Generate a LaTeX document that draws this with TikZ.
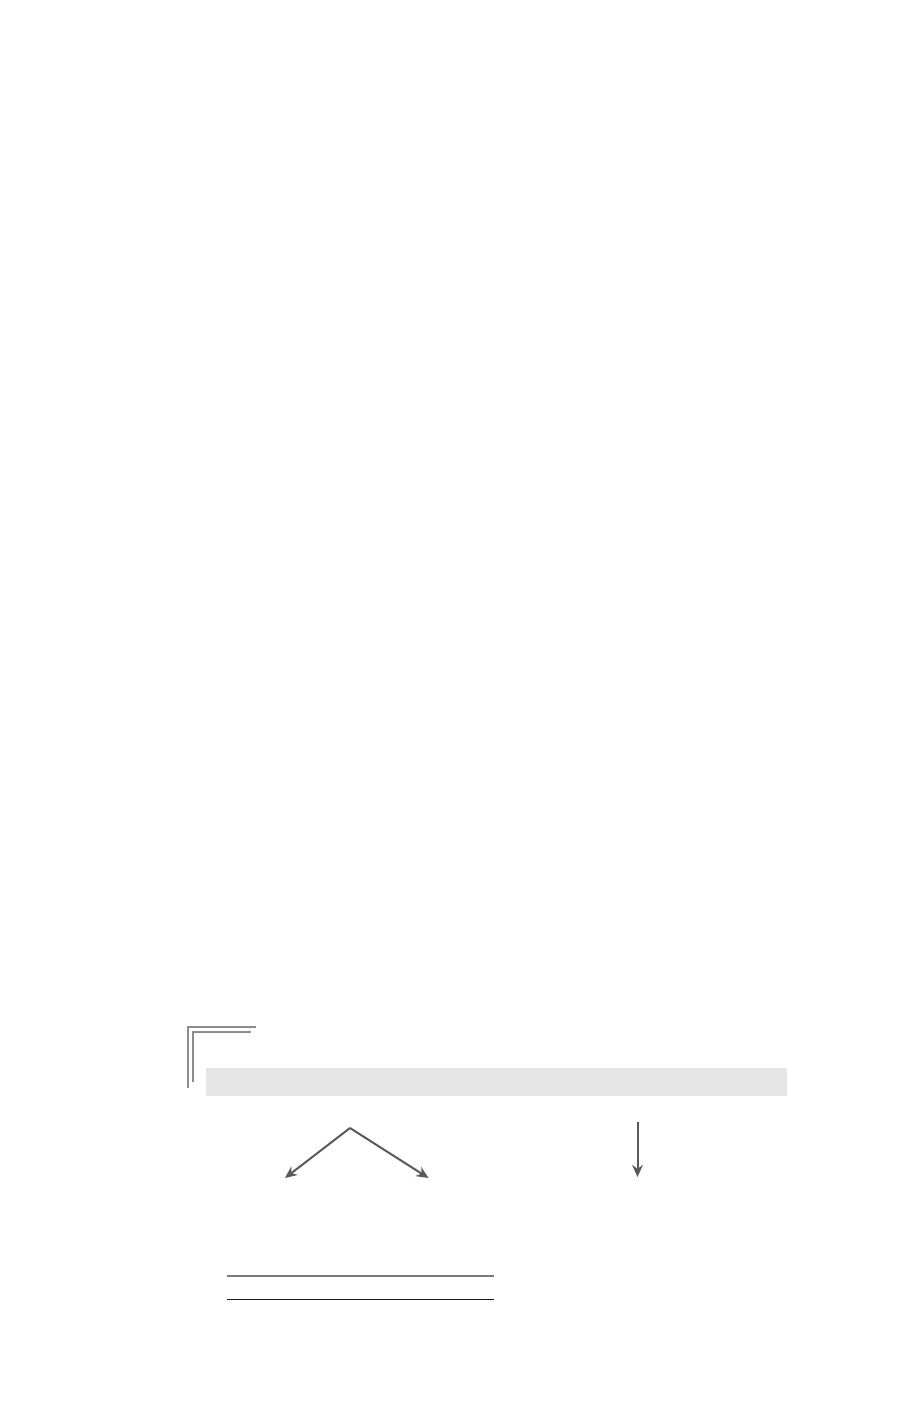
\documentclass[tikz,border=0pt]{standalone}
\usetikzlibrary{arrows.meta}
\definecolor{barfill}{HTML}{E5E5E5}
\definecolor{arrowgray}{HTML}{595959}
\definecolor{cornergray}{HTML}{8C8C8C}
\definecolor{rulegray}{HTML}{7A7A74}
\begin{document}
\begin{tikzpicture}[x=0.75pt,y=-0.75pt,
  flow/.style={draw=arrowgray,line width=1.5pt,-{Stealth[length=9pt,width=8pt]}},
  cornerline/.style={draw=cornergray,line width=1.2pt}]
\useasboundingbox (0,0) rectangle (920,1406);
% corner mark
\draw [cornerline] (188,1088) -- (188,1027) -- (256,1027);
\draw [cornerline] (193,1082) -- (193,1032) -- (251,1032);
% header bar
\node (header) [fill=barfill,inner sep=0pt,minimum width=435.75pt,minimum height=21pt] at (496.75,1082) {};
% arrows
\coordinate (split) at (350,1128);
\coordinate (leftend) at (285,1178);
\coordinate (rightend) at (428.5,1178);
\coordinate (downtop) at (637.5,1122);
\coordinate (downend) at (637.5,1177);
\draw [flow] (split) -- (leftend);
\draw [flow] (split) -- (rightend);
\draw [flow] (downtop) -- (downend);
% rules
\coordinate (ruleAleft) at (227,1276);
\coordinate (ruleAright) at (494,1276);
\coordinate (ruleBleft) at (227,1299.5);
\coordinate (ruleBright) at (494,1299.5);
\draw [rulegray,line width=1.4pt] (ruleAleft) -- (ruleAright);
\draw [black!90,line width=0.9pt] (ruleBleft) -- (ruleBright);
\end{tikzpicture}
\end{document}
